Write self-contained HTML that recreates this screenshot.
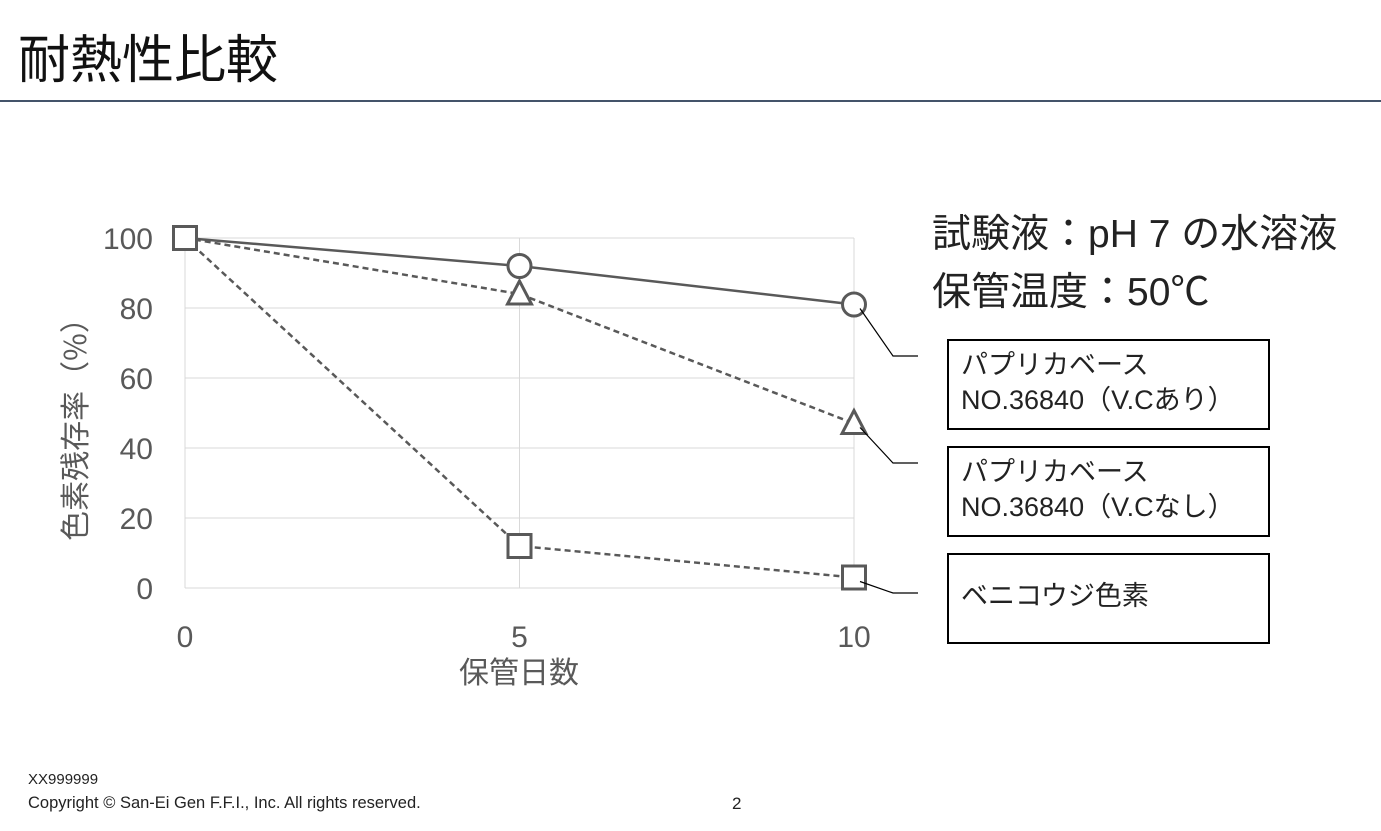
<!DOCTYPE html>
<html><head><meta charset="utf-8"><style>
body{margin:0;width:1381px;height:831px;background:#fff;overflow:hidden;font-family:"Liberation Sans","Noto Sans CJK JP",sans-serif;position:relative}
.t{position:absolute;white-space:nowrap}
.box{position:absolute;border:2px solid #000;box-sizing:border-box;font-size:27px;line-height:35px;padding:7px 12px;color:#222}
</style></head><body>
<div class="t" style="left:18px;top:18px;font-size:52px;color:#111">耐熱性比較</div>
<div style="position:absolute;left:0;top:100px;width:1381px;height:2px;background:#44546a"></div>
<div class="t" style="left:932px;top:203px;font-size:39px;color:#222">試験液：pH 7 の水溶液</div>
<div class="t" style="left:932px;top:261px;font-size:39px;color:#222">保管温度：50℃</div>
<div class="box" style="left:947px;top:339px;width:323px;height:91px">パプリカベース<br>NO.36840（V.Cあり）</div>
<div class="box" style="left:947px;top:446px;width:323px;height:91px">パプリカベース<br>NO.36840（V.Cなし）</div>
<div class="box" style="left:947px;top:553px;width:323px;height:91px;padding-top:24px">ベニコウジ色素</div>
<svg id="chart" width="1381" height="831" style="position:absolute;left:0;top:0"></svg>
<div class="t" style="left:28px;top:771px;font-size:15px;color:#222">XX999999</div>
<div class="t" style="left:28px;top:794px;font-size:16.5px;color:#222">Copyright © San-Ei Gen F.F.I., Inc. All rights reserved.</div>
<div class="t" style="left:732px;top:794px;font-size:17px;color:#222">2</div>
<script>
const days=[0,5,10];
const vcYes=[100,92,81];
const vcNo=[100,84,47];
const beni=[100,12,3];
const yTicks=[0,20,40,60,80,100];
const xTicks=[0,5,10];
const NS="http://www.w3.org/2000/svg";
const svg=document.getElementById('chart');
const X=d=>185+d*(854-185)/10;
const Y=v=>588-v*3.5;
function mk(tag,attrs){const e=document.createElementNS(NS,tag);for(const k in attrs)e.setAttribute(k,attrs[k]);svg.appendChild(e);return e;}
yTicks.forEach(v=>{
 const l=mk('line',{x1:185,x2:854,y1:Y(v),y2:Y(v),stroke:'#d9d9d9','stroke-width':1});
 
 
 const t=mk('text',{x:153,y:Y(v)+11,'text-anchor':'end','font-size':30,fill:'#595959','font-family':'Liberation Sans, sans-serif'});t.textContent=v;
 
 
});
xTicks.forEach(d=>{
 const l=mk('line',{x1:X(d),x2:X(d),y1:Y(100),y2:Y(0),stroke:'#d9d9d9','stroke-width':1});
 
 
 const t=mk('text',{x:X(d),y:647,'text-anchor':'middle','font-size':30,fill:'#595959','font-family':'Liberation Sans, sans-serif'});t.textContent=d;
 
 
});
const xt=mk('text',{x:519,y:683,'text-anchor':'middle','font-size':30,fill:'#595959','font-family':'Noto Sans CJK JP, sans-serif'});xt.textContent='保管日数';


const yt=mk('text',{x:0,y:0,transform:'translate(86,422) rotate(-90)','text-anchor':'middle','font-size':30,fill:'#595959','font-family':'Noto Sans CJK JP, sans-serif'});yt.textContent='色素残存率（%）';


function series(vals,dash,name){
 const p=mk('polyline',{points:days.map((d,i)=>X(d)+','+Y(vals[i])).join(' '),fill:'none',stroke:'#595959','stroke-width':2.5,'stroke-dasharray':dash});
 
 
}
series(vcYes,'none','vc-yes');series(vcNo,'6,4','vc-no');series(beni,'6,4','beni');
const st={fill:'#fff',stroke:'#595959','stroke-width':3};
days.forEach((d,i)=>{
 if(i>0){const c=mk('circle',Object.assign({cx:X(d),cy:Y(vcYes[i]),r:11.5},st));
 
 
 const x=X(d),y=Y(vcNo[i]);
 const t=mk('polygon',Object.assign({points:`${x},${y-13} ${x-12},${y+10} ${x+12},${y+10}`},st));
 
 }
 const s=mk('rect',Object.assign({x:X(d)-11.5,y:Y(beni[i])-11.5,width:23,height:23,'stroke-width':3.5},st));
 
 
});
[[Y(vcYes[2]),356],[Y(vcNo[2]),463],[Y(beni[2]),593]].forEach(([y0,y1])=>{
 const l=mk('polyline',{points:`${X(10)+6},${y0+4} ${893},${y1} ${918},${y1}`,fill:'none',stroke:'#000','stroke-width':1.2});
 
 
});
</script>
</body></html>
